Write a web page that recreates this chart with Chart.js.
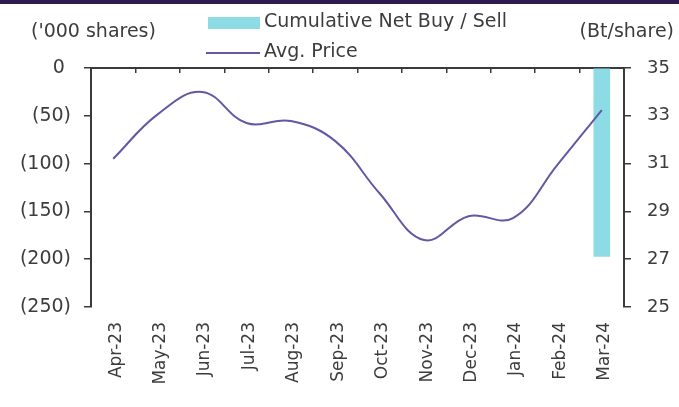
<!DOCTYPE html>
<html>
<head>
<meta charset="utf-8">
<script src="https://cdn.jsdelivr.net/npm/chart.js@4.4.1/dist/chart.umd.min.js"></script>
<style>
  html, body { margin: 0; padding: 0; background: #fff; }
  #wrap { position: relative; width: 679px; height: 407px; }
</style>
</head>
<body>
<div id="wrap"><canvas id="netBuyChart"></canvas></div>
<script>
const months = ['Apr-23', 'May-23', 'Jun-23', 'Jul-23', 'Aug-23', 'Sep-23',
                'Oct-23', 'Nov-23', 'Dec-23', 'Jan-24', 'Feb-24', 'Mar-24'];
const netBuySell = [null, null, null, null, null, null, null, null, null, null, null, -197];
const avgPrice = [31.2, 33.06, 34.0, 32.7, 32.78, 31.94, 29.75, 27.8, 28.8, 28.72, 30.95, 33.24];
const shareTicks = [0, -50, -100, -150, -200, -250];
const priceTicks = [25, 27, 29, 31, 33, 35];

const FONT = 'DejaVu Sans';
const TEXT = '#3c3c3c';
const AXIS = '#3a3a3a';
const BAR = '#8ddbe4';
const LINE = '#6258a3';

// ('000 shares) style: negatives in brackets, zero padded like the bracket
function shareLabel(v) {
    if (v === 0) return '0\u2008';
    return v < 0 ? '(' + Math.abs(v) + ')' : String(v);
}

// header strip, axis units and the two-row legend
const decorations = {
    id: 'decorations',
    beforeDraw(chart) {
        const c = chart.ctx;
        c.save();
        c.fillStyle = '#2e1b4f';
        c.fillRect(0, 0, chart.width, 4);
        c.restore();
    },
    afterDraw(chart) {
        const c = chart.ctx;
        const bars = chart.data.datasets[1];
        const line = chart.data.datasets[0];
        c.save();
        c.font = '19px "' + FONT + '"';
        c.fillStyle = TEXT;
        c.textBaseline = 'middle';

        c.textAlign = 'left';
        c.fillText("('000 shares)", 31, 32);
        c.textAlign = 'right';
        c.fillText('(Bt/share)', 674, 32);

        c.textAlign = 'left';
        c.fillStyle = bars.backgroundColor;
        c.fillRect(208, 17, 52, 12);
        c.fillStyle = TEXT;
        c.fillText(bars.label, 264, 22);

        c.strokeStyle = line.borderColor;
        c.lineWidth = 2;
        c.beginPath();
        c.moveTo(206, 53);
        c.lineTo(260, 53);
        c.stroke();
        c.fillText(line.label, 264, 52);
        c.restore();
    }
};

document.addEventListener('DOMContentLoaded', () => {
    const ctx = document.getElementById('netBuyChart').getContext('2d');

    new Chart(ctx, {
        data: {
            labels: months,
            datasets: [{
                type: 'line',
                label: 'Avg. Price',
                data: avgPrice,
                yAxisID: 'yPrice',
                borderColor: LINE,
                borderWidth: 2,
                pointRadius: 0,
                tension: 0.4,
                order: 0
            }, {
                type: 'bar',
                label: 'Cumulative Net Buy / Sell',
                data: netBuySell,
                yAxisID: 'yShares',
                backgroundColor: BAR,
                borderWidth: 0,
                barThickness: 16,
                order: 1
            }]
        },
        options: {
            responsive: true,
            maintainAspectRatio: false,
            animation: false,
            layout: { padding: { top: 68, left: 0, right: 0, bottom: 0 } },
            plugins: {
                legend: { display: false },
                tooltip: { enabled: false }
            },
            scales: {
                x: {
                    type: 'category',
                    position: 'bottom',
                    offset: true,
                    grid: { display: false, drawTicks: false },
                    border: { display: false },
                    ticks: {
                        minRotation: 90,
                        maxRotation: 90,
                        padding: 15,
                        labelOffset: 3,
                        color: TEXT,
                        font: { family: FONT, size: 17 }
                    },
                    afterFit(scale) { scale.height = 100; }
                },
                xTop: {
                    type: 'category',
                    position: 'top',
                    offset: true,
                    grid: {
                        offset: true,
                        drawOnChartArea: false,
                        drawTicks: true,
                        tickLength: -5,
                        color: AXIS,
                        lineWidth: 1.5
                    },
                    border: { display: true, color: AXIS, width: 2 },
                    ticks: { display: false },
                    afterFit(scale) { scale.height = 0; }
                },
                yShares: {
                    position: 'left',
                    min: -250,
                    max: 0,
                    afterBuildTicks(scale) {
                        scale.ticks = shareTicks.map(v => ({ value: v }));
                    },
                    grid: {
                        drawOnChartArea: false,
                        tickLength: 7,
                        color: AXIS,
                        lineWidth: 1.5
                    },
                    border: { display: true, color: AXIS, width: 2 },
                    ticks: {
                        padding: 13,
                        color: TEXT,
                        font: { family: FONT, size: 19 },
                        callback: v => shareLabel(v)
                    },
                    afterFit(scale) { scale.width = 91; }
                },
                yPrice: {
                    position: 'right',
                    min: 25,
                    max: 35,
                    afterBuildTicks(scale) {
                        scale.ticks = priceTicks.map(v => ({ value: v }));
                    },
                    grid: {
                        drawOnChartArea: false,
                        tickLength: 7,
                        color: AXIS,
                        lineWidth: 1.5
                    },
                    border: { display: true, color: AXIS, width: 2 },
                    ticks: {
                        padding: 16,
                        color: TEXT,
                        font: { family: FONT, size: 18 }
                    },
                    afterFit(scale) { scale.width = 55; }
                }
            }
        },
        plugins: [decorations]
    });
});
</script>
</body>
</html>
